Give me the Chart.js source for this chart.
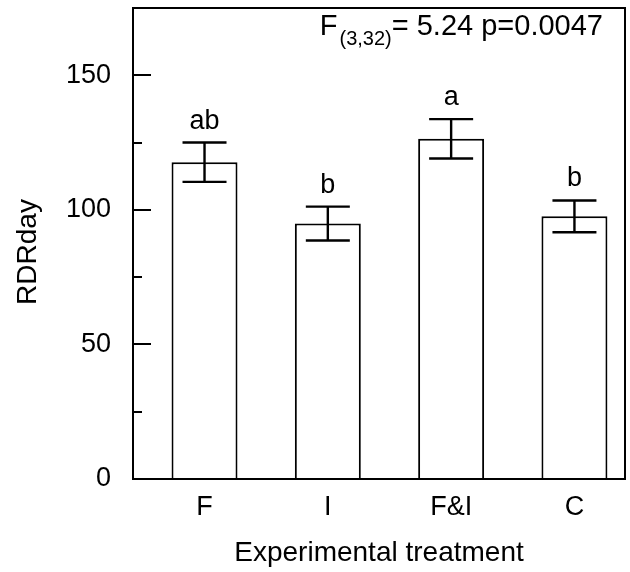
<!DOCTYPE html>
<html>
<head>
<meta charset="utf-8">
<script src="https://cdn.jsdelivr.net/npm/chart.js@4.4.1/dist/chart.umd.min.js"></script>
<style>
  html, body { margin: 0; padding: 0; background: #fff; }
  #wrap { width: 630px; height: 572px; }
</style>
</head>
<body>
<div id="wrap"><canvas id="chart" width="630" height="572"></canvas></div>
<script>
var categories = ['F', 'I', 'F&I', 'C'];
var xPositions = [1, 2, 3, 4];
var means = [117.7, 94.9, 126.4, 97.6];
var errors = [7.3, 6.3, 7.3, 5.9];
var letters = ['ab', 'b', 'a', 'b'];
var yTicks = [0, 50, 100, 150];
var yMinorTicks = [25, 75, 125];

var FONT = '"Liberation Sans", Arial, Helvetica, sans-serif';

// frame, inward ticks, error bars, letters and the F-test note
var extras = {
    id: 'extras',
    afterDatasetsDraw: function (chart) {
        var ctx = chart.ctx;
        var area = chart.chartArea;
        var x = chart.scales.x;
        var y = chart.scales.y;

        ctx.save();
        ctx.strokeStyle = '#000';
        ctx.lineWidth = 2;
        ctx.strokeRect(area.left, area.top, area.right - area.left, area.bottom - area.top);

        ctx.beginPath();
        yTicks.forEach(function (v) {
            var py = Math.round(y.getPixelForValue(v));
            ctx.moveTo(area.left, py);
            ctx.lineTo(area.left + 18, py);
        });
        yMinorTicks.forEach(function (v) {
            var py = Math.round(y.getPixelForValue(v));
            ctx.moveTo(area.left, py);
            ctx.lineTo(area.left + 9, py);
        });
        ctx.stroke();

        // error bars
        ctx.lineWidth = 2.4;
        ctx.beginPath();
        for (var i = 0; i < means.length; i++) {
            var px = x.getPixelForValue(xPositions[i]);
            var top = y.getPixelForValue(means[i] + errors[i]);
            var bot = y.getPixelForValue(means[i] - errors[i]);
            ctx.moveTo(px, top);
            ctx.lineTo(px, bot);
            ctx.moveTo(px - 22, top);
            ctx.lineTo(px + 22, top);
            ctx.moveTo(px - 22, bot);
            ctx.lineTo(px + 22, bot);
        }
        ctx.stroke();

        // group letters
        ctx.fillStyle = '#000';
        ctx.font = '27px ' + FONT;
        ctx.textAlign = 'center';
        ctx.textBaseline = 'alphabetic';
        for (var j = 0; j < letters.length; j++) {
            var lx = x.getPixelForValue(xPositions[j]);
            var ly = y.getPixelForValue(means[j] + errors[j]) - 14;
            ctx.fillText(letters[j], lx, ly);
        }

        // F(3,32)= 5.24 p=0.0047
        var right = area.right - 22;
        ctx.textAlign = 'right';
        ctx.font = '29px ' + FONT;
        var mainText = '= 5.24 p=0.0047';
        ctx.fillText(mainText, right, 35);
        var mainW = ctx.measureText(mainText).width;
        ctx.font = '20px ' + FONT;
        var subText = '(3,32)';
        ctx.fillText(subText, right - mainW, 45);
        var subW = ctx.measureText(subText).width;
        ctx.font = '29px ' + FONT;
        ctx.fillText('F', right - mainW - subW - 2, 35);

        // y title
        ctx.translate(36, 252);
        ctx.rotate(-Math.PI / 2);
        ctx.textAlign = 'center';
        ctx.font = '28px ' + FONT;
        ctx.fillText('RDRday', 0, 0);
        ctx.restore();
    }
};

var barData = xPositions.map(function (v, i) {
    return { x: v, y: means[i] };
});

new Chart(document.getElementById('chart'), {
    type: 'bar',
    data: {
        datasets: [{
            data: barData,
            backgroundColor: '#fff',
            borderColor: '#000',
            borderWidth: 2,
            categoryPercentage: 1,
            barPercentage: 0.535
        }]
    },
    options: {
        responsive: false,
        animation: false,
        layout: { padding: { top: 8, right: 5, left: 0, bottom: 0 } },
        plugins: {
            legend: { display: false },
            tooltip: { enabled: false }
        },
        scales: {
            x: {
                type: 'linear',
                offset: false,
                min: 0.42,
                max: 4.41,
                afterBuildTicks: function (scale) {
                    scale.ticks = xPositions.map(function (v) { return { value: v }; });
                },
                afterFit: function (scale) {
                    scale.height = 93;
                    scale.paddingLeft = 0;
                    scale.paddingRight = 0;
                },
                grid: { display: false },
                border: { display: true, color: '#000', width: 2 },
                ticks: {
                    color: '#000',
                    font: { family: FONT, size: 27 },
                    padding: 4,
                    maxRotation: 0,
                    autoSkip: false,
                    callback: function (v) { return categories[v - 1]; }
                },
                title: {
                    display: true,
                    text: 'Experimental treatment',
                    color: '#000',
                    font: { family: FONT, size: 28 },
                    padding: { top: 6, bottom: 2 }
                }
            },
            y: {
                min: 0,
                max: 175,
                afterBuildTicks: function (scale) {
                    scale.ticks = yTicks.map(function (v) { return { value: v }; });
                },
                afterFit: function (scale) {
                    scale.width = 133;
                    scale.paddingTop = 0;
                    scale.paddingBottom = 0;
                },
                grid: { display: false },
                border: { display: true, color: '#000', width: 2 },
                ticks: {
                    color: '#000',
                    font: { family: FONT, size: 27 },
                    padding: 14
                }
            }
        }
    },
    plugins: [extras]
});
</script>
</body>
</html>
